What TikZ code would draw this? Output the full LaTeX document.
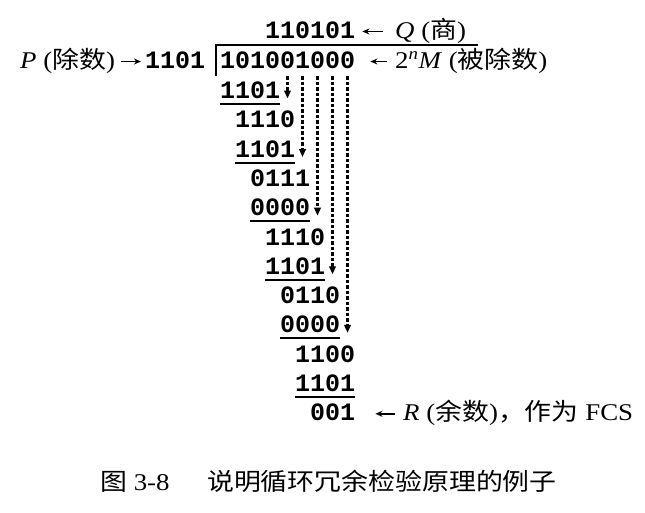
\documentclass[tikz,border=0pt]{standalone}
\usepackage{fontspec}
\setmainfont{Liberation Serif}[FakeStretch=1.12]
\newfontfamily\cjk{Noto Sans CJK SC}[FakeStretch=1.12]
\newfontfamily\bitfont{Liberation Mono}
\usetikzlibrary{arrows.meta}

\begin{document}
\begin{tikzpicture}[x=1pt, y=-1pt,
  bits/.style={anchor=base west, inner sep=0pt, font=\bitfont\bfseries\fontsize{25}{25}\selectfont},
  lbl/.style={anchor=base west, inner sep=0pt, font=\fontsize{24}{24}\selectfont},
  rule/.style={line width=2pt},
  carry/.style={line width=2.2pt, dash pattern=on 3.5pt off 2pt, -{Triangle[length=8pt,width=6.5pt]}},
  pointer/.style={line width=1.6pt, -{Stealth[length=7pt,width=6pt]}}]
  \fill[white] (0,0) rectangle (645,512);
  \node[bits] (quot) at (265,38.5) {110101};
  \node[bits] (dividend) at (220,68.5) {101001000};
  \node[bits] (divisor) at (145,68.5) {1101};
  \foreach \k/\c/\s in {0/0/1101, 1/1/1110, 2/1/1101, 3/2/0111, 4/2/0000, 5/3/1110,
                        6/3/1101, 7/4/0110, 8/4/0000, 9/5/1100, 10/5/1101, 11/6/001}
    \node[bits] (r\k) at ({220+15*\c},{98.5+29.3*\k}) {\s};
  \foreach \k in {0,2,...,10}
    \draw[rule] ([yshift=-5.5pt]r\k.base west) -- ([yshift=-5.5pt]r\k.base east);
  \draw[rule] (216,76) -- (216,45) -- (478,45);
  \foreach \i in {0,...,8}
    \coordinate (d\i) at ({227.5+15*\i},76);
  \foreach \i/\k in {4/0,5/2,6/4,7/6,8/8}
    \draw[carry] (d\i) -- (d\i |- r\k.base);
  \node[lbl] (plbl) at (20,68.5) {\textit{P} ({\cjk 除数})};
  \node[lbl] (qlbl) at (395,38.5) {\textit{Q} ({\cjk 商})};
  \node[lbl] (mlbl) at (395,68.5) {2\textsuperscript{\textit{n}}\textit{M} ({\cjk 被除数})};
  \node[lbl] (rlbl) at (403,{98.5+29.3*11}) {\textit{R} ({\cjk 余数}){\cjk ，作为} FCS};
  \draw[pointer, shorten <=6pt, shorten >=4pt] ([yshift=7pt]plbl.base east) -- ([yshift=7pt]divisor.base west);
  \draw[pointer, shorten <=12pt, shorten >=7pt] ([yshift=7pt]qlbl.base west) -- ([yshift=7pt]quot.base east);
  \draw[pointer, shorten <=8pt, shorten >=15pt] ([yshift=7pt]mlbl.base west) -- ([yshift=7pt]dividend.base east);
  \draw[pointer, shorten <=8pt, shorten >=20pt] ([yshift=7pt]rlbl.base west) -- ([yshift=7pt]r11.base east);
  \node[lbl] (fignum) at (100,490) {{\cjk 图} 3-8};
  \node[lbl] (figtitle) at (207,490) {\cjk 说明循环冗余检验原理的例子};
\end{tikzpicture}
\end{document}
